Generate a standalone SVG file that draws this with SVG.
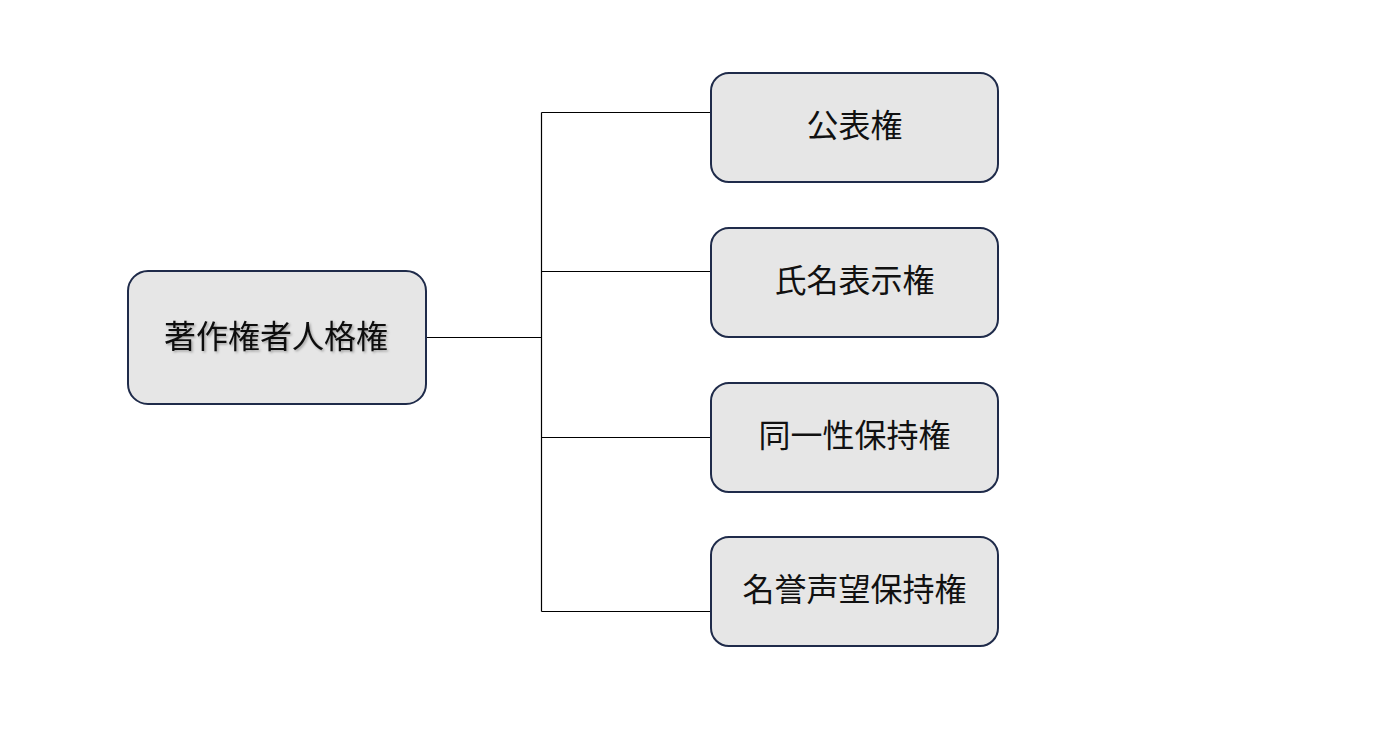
<svg xmlns="http://www.w3.org/2000/svg" width="1380" height="740" viewBox="0 0 1380 740">
<defs>
<style>
.box{fill:#e6e6e6;stroke:#1f2b4a;stroke-width:2}
.lbl{font-family:"Noto Sans CJK JP","Noto Sans CJK SC",sans-serif;font-size:32px;fill:#111;text-anchor:middle;dominant-baseline:central}
.con{stroke:#000;stroke-width:1.2;fill:none}
</style>
<filter id="sh" x="-10%" y="-30%" width="120%" height="160%">
<feDropShadow dx="1.5" dy="1.5" stdDeviation="1.2" flood-color="#000" flood-opacity="0.3"/>
</filter>
</defs>
<rect width="1380" height="740" fill="#fff"/>
<g id="connectors">
<path class="con" d="M426 337.5H541.5M541.5 112.5V611.5M541.5 112.5H711M541.5 271.5H711M541.5 437.5H711M541.5 611.5H711"/>
</g>
<g id="root">
<rect class="box" x="128" y="271" width="298" height="133" rx="20"/>
<text class="lbl" x="276" y="334" filter="url(#sh)">著作権者人格権</text>
</g>
<g id="n1">
<rect class="box" x="711" y="73" width="287" height="109" rx="18"/>
<text class="lbl" x="854.5" y="123">公表権</text>
</g>
<g id="n2">
<rect class="box" x="711" y="228" width="287" height="109" rx="18"/>
<text class="lbl" x="854.5" y="278">氏名表示権</text>
</g>
<g id="n3">
<rect class="box" x="711" y="383" width="287" height="109" rx="18"/>
<text class="lbl" x="854.5" y="433">同一性保持権</text>
</g>
<g id="n4">
<rect class="box" x="711" y="537" width="287" height="109" rx="18"/>
<text class="lbl" x="854.5" y="587">名誉声望保持権</text>
</g>
</svg>
